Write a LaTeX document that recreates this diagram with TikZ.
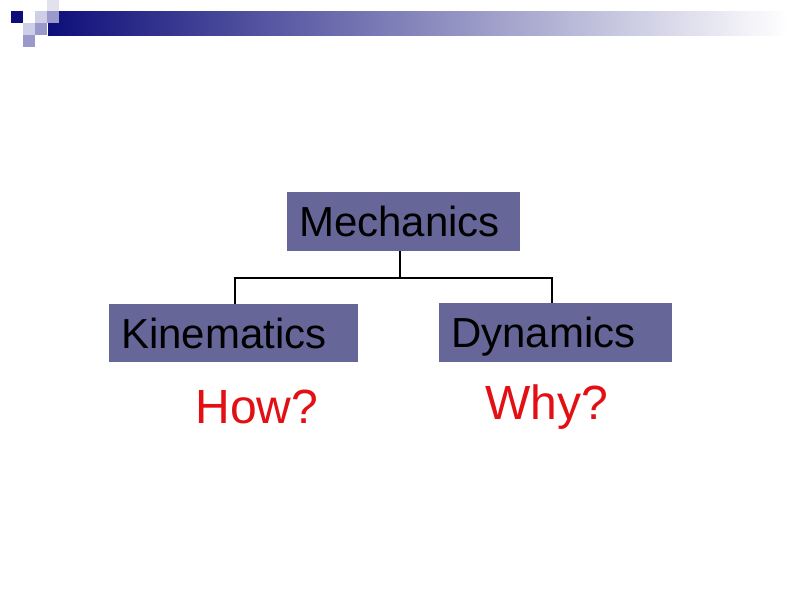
\documentclass[tikz,border=0pt]{standalone}
\usepackage{fontspec}
\setmainfont{Liberation Sans}
\definecolor{boxfill}{RGB}{102,102,153}
\definecolor{navy}{RGB}{14,14,122}
\definecolor{lightsq}{RGB}{206,206,230}
\definecolor{midsq}{RGB}{153,153,204}
\definecolor{paler}{RGB}{226,226,238}
\definecolor{pen}{RGB}{226,16,20}

\begin{document}
\begin{tikzpicture}[x=1pt, y=-1pt,
  topic/.style={fill=boxfill, anchor=north west, inner xsep=12pt, inner ysep=0pt,
    minimum height=59pt, align=left, text height=30pt, text depth=0pt,
    font=\fontsize{42}{50}\selectfont},
  scrawl/.style={text=pen, inner sep=0pt, font=\fontsize{48}{56}\selectfont}]
  \useasboundingbox (0,0) rectangle (794,595);

  % Title bar with the little squares
  \shade[left color=navy, middle color={rgb,255:red,168;green,169;blue,194}, right color=white]
    (48,11) rectangle (787,35);
  \fill[paler] (47,0) rectangle (59,11);
  \fill[navy] (11,11) rectangle (23,23);
  \fill[lightsq] (35,11) rectangle (47,23);
  \fill[midsq] (47,11) rectangle (59,23);
  \fill[lightsq] (23,23) rectangle (35,35);
  \fill[midsq] (35,23) rectangle (47,35);
  \fill[midsq] (23,35) rectangle (35,47);

  % Boxes
  \node[topic, text width=209pt] (mech) at (287,192) {Mechanics};
  \node[topic, text width=225pt, minimum height=58pt] (kin) at (109,304) {Kinematics};
  \node[topic, text width=209pt] (dyn) at (439,303) {Dynamics};

  % Tree lines
  \coordinate (split) at (400,278); % where the branches part
  \draw[line width=1.6pt] (split |- mech.south) -- (split);
  \draw[line width=1.6pt] ([xshift=1.5pt]kin.north) |- (split) -| ([xshift=-3.5pt]dyn.north);

  % Notes under the boxes
  \node[scrawl] (how) at (257,407) {How?};
  \node[scrawl] (why) at (547,407) {Why?};
\end{tikzpicture}
\end{document}
